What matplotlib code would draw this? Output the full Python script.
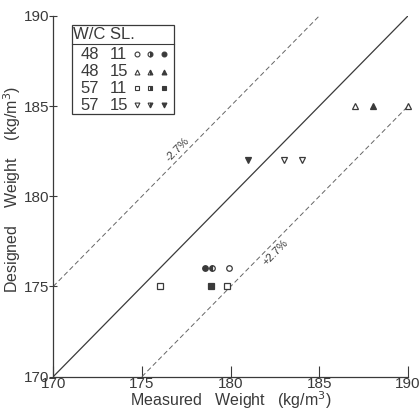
import matplotlib.pyplot as plt
from matplotlib.lines import Line2D

# measured / designed weight, grouped by mix (W/C, SL) and marker fill
circle_open_x, circle_open_y = [179.9], [176.0]
circle_half_x, circle_half_y = [178.95], [176.0]
circle_full_x, circle_full_y = [178.55], [176.0]
square_open_x, square_open_y = [176.0, 179.8], [175.0, 175.0]
square_full_x, square_full_y = [178.9], [175.0]
tri_up_open_x, tri_up_open_y = [187.0, 190.0], [185.0, 185.0]
tri_up_full_x, tri_up_full_y = [188.0], [185.0]
tri_dn_open_x, tri_dn_open_y = [183.0, 184.0], [182.0, 182.0]
tri_dn_full_x, tri_dn_full_y = [181.0], [182.0]

legend_wc = ['48', '48', '57', '57']
legend_sl = ['11', '15', '11', '15']
legend_markers = ['o', '^', 's', 'v']

ticks = [170, 175, 180, 185, 190]
band = 5.0  # offset of the dashed lines

plt.rcParams['font.family'] = ['Liberation Sans', 'DejaVu Sans']
ink = '#3a3a3a'
fs = 11

fig = plt.figure(figsize=(4.19, 4.12), dpi=100)
ax = fig.add_axes([0.127, 0.0857, 0.847, 0.876])

# reference lines
ax.plot([170, 190], [170, 190], color=ink, lw=0.9)
ax.plot([170, 190 - band], [170 + band, 190], color='#666666', lw=0.7, dashes=(5, 3))
ax.plot([170 + band, 190], [170, 190 - band], color='#666666', lw=0.7, dashes=(5, 3))
ax.text(177.0, 182.6, '-2.7%', rotation=45.5, ha='center', va='center', fontsize=8, color=ink)
ax.text(182.5, 176.9, '+2.7%', rotation=45.5, ha='center', va='center', fontsize=8, color=ink)

kw = dict(ls='none', ms=4, mec=ink, mew=0.9, clip_on=False)
ax.plot(circle_open_x, circle_open_y, marker='o', mfc='white', **kw)
ax.plot(circle_half_x, circle_half_y, marker='o', fillstyle='left', mfc=ink, mfcalt='white', **kw)
ax.plot(circle_full_x, circle_full_y, marker='o', mfc=ink, **kw)
ax.plot(square_open_x, square_open_y, marker='s', mfc='white', **kw)
ax.plot(square_full_x, square_full_y, marker='s', mfc=ink, **kw)
ax.plot(tri_up_open_x, tri_up_open_y, marker='^', mfc='white', **kw)
ax.plot(tri_up_full_x, tri_up_full_y, marker='^', mfc=ink, **kw)
ax.plot(tri_dn_open_x, tri_dn_open_y, marker='v', mfc='white', **kw)
ax.plot(tri_dn_full_x, tri_dn_full_y, marker='v', mfc=ink, **kw)

ax.set_xlim(170, 190)
ax.set_ylim(170, 190)
ax.set_xticks(ticks)
ax.set_yticks(ticks)
for s in ['top', 'right']:
    ax.spines[s].set_visible(False)
for s in ['left', 'bottom']:
    ax.spines[s].set_color(ink)
    ax.spines[s].set_linewidth(0.9)
ax.tick_params(axis='x', direction='in', length=8, pad=0, labelsize=fs, colors=ink)
ax.tick_params(axis='y', direction='inout', length=6, pad=0, labelsize=fs, colors=ink)
ax.set_xlabel('Measured   Weight   (kg/m$^3$)', fontsize=11.5, color=ink, labelpad=-1)
ax.set_ylabel('Designed    Weight    (kg/m$^3$)', fontsize=11.5, color=ink)
ax.yaxis.set_label_coords(-0.085, 0.52)

# legend table
box = plt.Rectangle((0.052, 0.727), 0.288, 0.247, transform=ax.transAxes,
                    fill=False, ec=ink, lw=0.9)
ax.add_patch(box)
ax.add_line(Line2D([0.052, 0.340], [0.923, 0.923], transform=ax.transAxes, color=ink, lw=0.8))
ax.text(0.057, 0.949, 'W/C SL.', transform=ax.transAxes, fontsize=12, color=ink, va='center')
rows_y = [0.893, 0.845, 0.799, 0.752]
for wc, sl, m, y in zip(legend_wc, legend_sl, legend_markers, rows_y):
    ax.text(0.103, y, wc, transform=ax.transAxes, fontsize=12, color=ink, ha='center', va='center')
    ax.text(0.185, y, sl, transform=ax.transAxes, fontsize=12, color=ink, ha='center', va='center')
    lk = dict(transform=ax.transAxes, ls='none', ms=3.5, mec=ink, mew=0.8)
    ax.plot([0.235], [y], marker=m, mfc='white', **lk)
    ax.plot([0.273], [y], marker=m, fillstyle='right', mfc=ink, mfcalt='white', **lk)
    ax.plot([0.313], [y], marker=m, mfc=ink, **lk)

fig.savefig('out.png', dpi=100)
